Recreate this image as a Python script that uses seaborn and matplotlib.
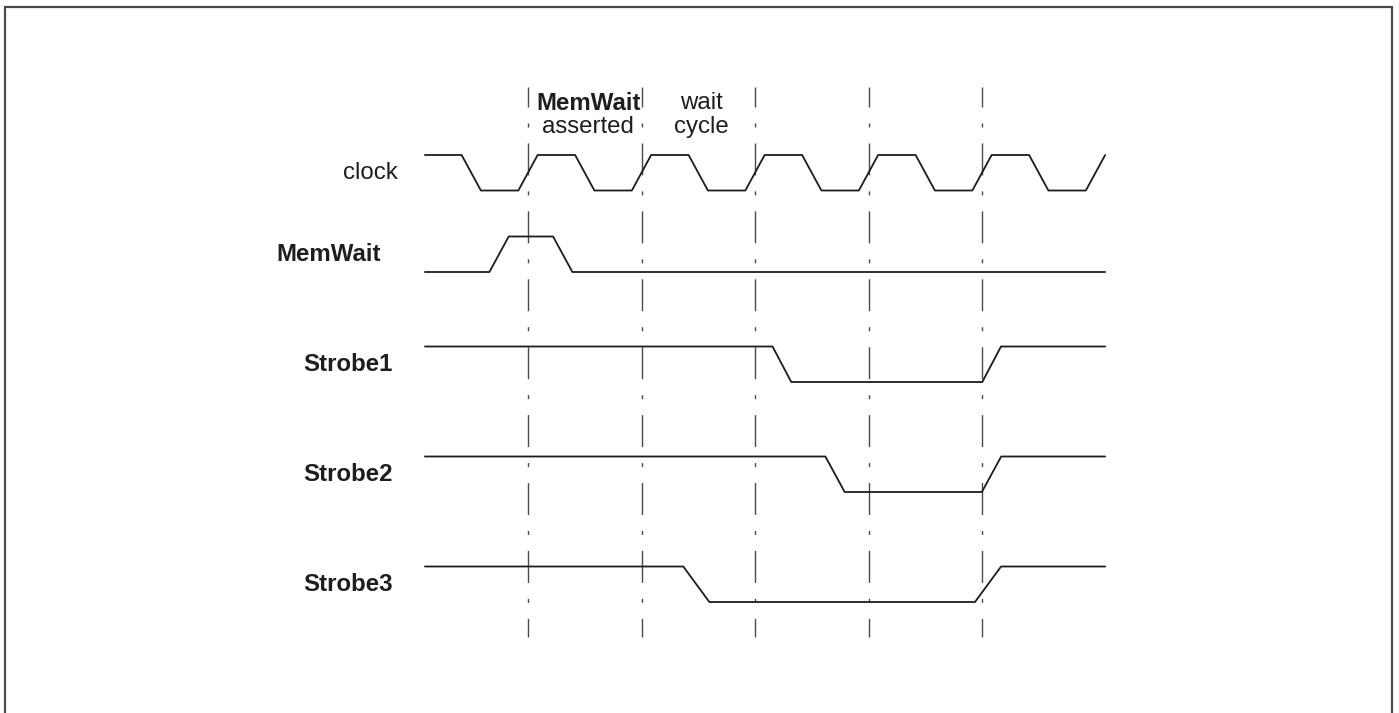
import numpy as np
import pandas as pd
import matplotlib
matplotlib.use("Agg")
import matplotlib.pyplot as plt
from matplotlib.patches import Rectangle
import seaborn as sns

# ---------------- data ----------------
signals = ["clock", "MemWait", "Strobe1", "Strobe2", "Strobe3"]
label_bold = [False, True, True, True, True]
initial_level = [1, 0, 1, 1, 1]
# centre times of each transition (clock periods)
clock_edges = [0.5, 1.0, 1.5, 2.0, 2.5, 3.0, 3.5, 4.0, 4.5, 5.0, 5.5, 6.0]
memwait_edges = [0.745, 1.306]
strobe1_edges = [3.237, 5.085]
strobe2_edges = [3.705, 5.084]
strobe3_edges = [2.483, 5.053]
edges = [clock_edges, memwait_edges, strobe1_edges, strobe2_edges, strobe3_edges]
slew = [0.17, 0.17, 0.165, 0.17, 0.23]
t_start = 0.092
t_end = 6.085
cycle_marks = [1, 2, 3, 4, 5]
header_top = ["MemWait", "wait"]
header_bottom = ["asserted", "cycle"]
header_t = [1.53, 2.53]

# ---------------- layout ----------------
W, H, DPI = 1399, 713, 100
x0_px, px_per_t = 414.5, 113.5
row_low = [190.5, 272.0, 382.0, 492.0, 602.0]
swing = 35.5
label_left_px = [343, 276, 303, 303, 303]
mark_top, mark_bot = 87, 637
fs = 17.3

sns.set_theme(style="white")
plt.rcParams["font.family"] = ["Liberation Sans", "DejaVu Sans"]

fig = plt.figure(figsize=(W / DPI, H / DPI), dpi=DPI)
ax = fig.add_axes([0, 0, 1, 1])
ax.set_xlim((0 - x0_px) / px_per_t, (W - x0_px) / px_per_t)
ax.set_ylim(H, 0)
ax.axis("off")

def to_t(px):
    return (px - x0_px) / px_per_t

# cycle marker lines (dash-dot)
dash = (23.0, 11.5, 2.9, 11.5)
ax.vlines(cycle_marks, mark_top, mark_bot, colors="#4a4a4a", linewidth=1.0,
          linestyles=[(8.6, dash)], zorder=1)

# waveforms
rows = []
for name, lvl0, ed, w, base in zip(signals, initial_level, edges, slew, row_low):
    lvl = lvl0
    pts = [(t_start, lvl)]
    for c in ed:
        pts.append((c - w / 2, lvl))
        lvl = 1 - lvl
        pts.append((c + w / 2, lvl))
    pts.append((t_end, lvl))
    for i, (t, l) in enumerate(pts):
        rows.append({"signal": name, "order": i, "t": t, "y": base - l * swing})
df = pd.DataFrame(rows)

for name in signals:
    sub = df[df["signal"] == name]
    sns.lineplot(data=sub, x="t", y="y", sort=False, estimator=None, ax=ax,
                 color="#1c1c1c", linewidth=1.3, zorder=3)
ax.set_xlabel("")
ax.set_ylabel("")

# signal labels
for name, bold, base, lx in zip(signals, label_bold, row_low, label_left_px):
    ax.text(to_t(lx), base - swing / 2, name, ha="left", va="center",
            fontsize=fs, fontweight="bold" if bold else "normal", color="#1e1e1e")

# header annotations
for i, (top, bot, tx) in enumerate(zip(header_top, header_bottom, header_t)):
    ax.text(tx, 103, top, ha="center", va="center", fontsize=fs,
            fontweight="bold" if i == 0 else "normal", color="#1e1e1e")
    ax.text(tx, 127, bot, ha="center", va="center", fontsize=fs, color="#1e1e1e")

# frame border
fig.add_artist(Rectangle((5 / W, -0.05), (1392 - 5) / W, 1.05 - 7 / H,
                         transform=fig.transFigure, fill=False,
                         edgecolor="#4a4a4a", linewidth=1.6))

fig.savefig("out.png", dpi=DPI)
